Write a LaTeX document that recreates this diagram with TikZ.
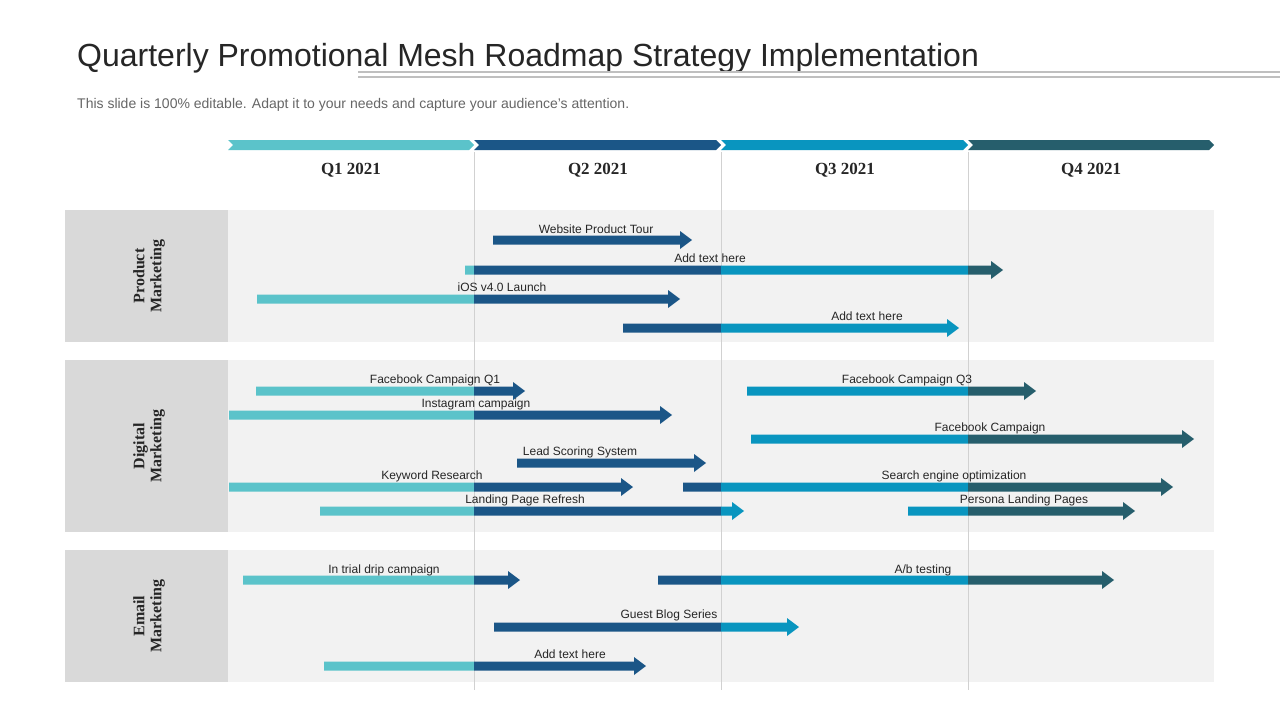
\documentclass[tikz,border=0pt]{standalone}
\usepackage{fontspec}
\setmainfont{Liberation Sans}
\newfontfamily\serifb{Liberation Serif}
\definecolor{qa}{HTML}{5BC3CA}
\definecolor{qb}{HTML}{1B5687}
\definecolor{qc}{HTML}{0995BF}
\definecolor{qd}{HTML}{265E6C}
\definecolor{bgrow}{HTML}{F2F2F2}
\definecolor{bgleft}{HTML}{D9D9D9}
\definecolor{txt}{HTML}{262626}
\tikzset{lbl/.style={font=\fontsize{12}{12}\selectfont,text=txt,inner sep=0pt,anchor=base},
 qh/.style={font=\serifb\bfseries\fontsize{17}{17}\selectfont,text=txt},
 sidelbl/.style={font=\serifb\bfseries\fontsize{16}{17}\selectfont,text=txt,rotate=90,align=center}}
\newcommand{\gshape}[3]{(#2,#1-4.5) -- (#3-12,#1-4.5) -- (#3-12,#1-9) -- (#3,#1) -- (#3-12,#1+9) -- (#3-12,#1+4.5) -- (#2,#1+4.5) -- cycle}
\newcommand{\gbar}[6]{%
 \foreach \qx/\qy/\qcol in {0/474/qa,474/721/qb,721/968/qc,968/1280/qd}{%
  \begin{scope}\clip (\qx,0) rectangle (\qy,720);
  \fill[\qcol] \gshape{#1}{#2}{#3};
  \end{scope}}
 \node[lbl] at (#5,#6) {#4};}
\begin{document}
\begin{tikzpicture}[x=1pt,y=-1pt]
\useasboundingbox (0,0) rectangle (1280,720);
\fill[white] (0,0) rectangle (1280,720);
\node[anchor=base west,inner sep=0pt,font=\fontsize{32}{32}\selectfont,text=txt] (title) at (77,66) {Quarterly Promotional Mesh Roadmap Strategy Implementation};
\draw[black!25,line width=1.2pt] (358,72) -- (1280,72) (358,77) -- (1280,77);
\node[anchor=base west,inner sep=0pt,font=\fontsize{14}{14}\selectfont,text=black!60] (sub) at (77,108) {This slide is 100\% editable. Adapt it to your needs and capture your audience's attention.};
% header chevrons
\foreach \xa/\xb/\c in {228/474/qa,474/721/qb,721/968/qc,968/1214/qd}{
 \fill[\c] (\xa,140) -- (\xb-5,140) -- (\xb,145) -- (\xb-5,150) -- (\xa,150) -- (\xa+5,145) -- cycle;}
\node[qh] (q1) at (351,170) {Q1 2021};
\node[qh] (q2) at (598,170) {Q2 2021};
\node[qh] (q3) at (845,170) {Q3 2021};
\node[qh] (q4) at (1091,170) {Q4 2021};
% rows
\foreach \ya/\yb in {210/342,360/532,550/682}{
 \fill[bgrow] (228,\ya) rectangle (1214,\yb);
 \fill[bgleft] (65,\ya) rectangle (228,\yb);}
\node[sidelbl] (r1) at (149,276) {Product\\Marketing};
\node[sidelbl] (r2) at (149,446) {Digital\\Marketing};
\node[sidelbl] (r3) at (149,616) {Email\\Marketing};
\foreach \x in {474,721,968}{\draw[black!18,line width=0.8pt] (\x,152) -- (\x,690);}
% bars
\gbar{240}{493}{692}{Website Product Tour}{596}{233}
\gbar{270}{465}{1003}{Add text here}{710}{262}
\gbar{299}{257}{680}{iOS v4.0 Launch}{502}{291}
\gbar{328}{623}{959}{Add text here}{867}{320}
\gbar{391}{256}{525}{Facebook Campaign Q1}{435}{383}
\gbar{415}{229}{672}{Instagram campaign}{476}{407}
\gbar{391}{747}{1036}{Facebook Campaign Q3}{907}{383}
\gbar{439}{751}{1194}{Facebook Campaign}{990}{431}
\gbar{463}{517}{706}{Lead Scoring System}{580}{455}
\gbar{487}{229}{633}{Keyword Research}{432}{479}
\gbar{487}{683}{1173}{Search engine optimization}{954}{479}
\gbar{511}{320}{744}{Landing Page Refresh}{525}{503}
\gbar{511}{908}{1135}{Persona Landing Pages}{1024}{503}
\gbar{580}{243}{520}{In trial drip campaign}{384}{573}
\gbar{580}{658}{1114}{A/b testing}{923}{573}
\gbar{627}{494}{799}{Guest Blog Series}{669}{618}
\gbar{666}{324}{646}{Add text here}{570}{658}
\end{tikzpicture}
\end{document}
